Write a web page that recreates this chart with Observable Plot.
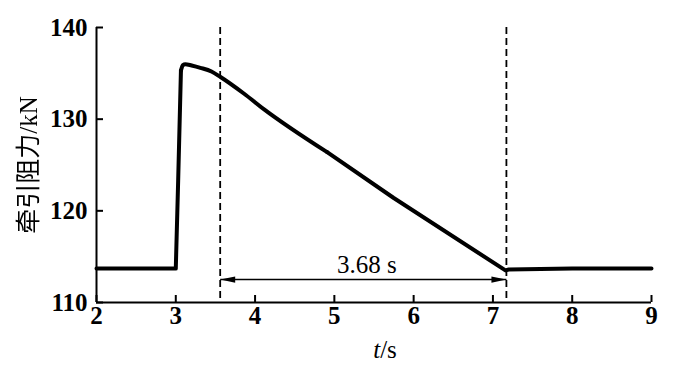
<!DOCTYPE html>
<html>
<head>
<meta charset="utf-8">
<script src="https://cdn.jsdelivr.net/npm/d3@7"></script>
<script src="https://cdn.jsdelivr.net/npm/@observablehq/plot@0.6"></script>
<style>
  html, body { margin: 0; padding: 0; background: #fff; }
  #chart svg { display: block; }
  #chart svg [aria-label$="tick label"] { font-size: 25px; font-weight: bold; }
</style>
</head>
<body>
<div id="chart"></div>
<script>
// ---- data ----
const time = [2, 2.5, 3.0, 3.03, 3.065, 3.09, 3.12, 3.2, 3.31, 3.45, 3.564, 3.858, 4.11, 4.909, 5.749, 7.158, 7.2, 8, 9];
const force = [113.7, 113.7, 113.7, 123.3, 135.3, 135.9, 136.0, 135.85, 135.6, 135.2, 134.6, 132.8, 131.1, 126.4, 121.4, 113.5, 113.6, 113.7, 113.7];
const xTicks = [2, 3, 4, 5, 6, 7, 8, 9];
const yTicks = [110, 120, 130, 140];
const markerTimes = [3.56, 7.17];
const spanForce = 112.5;
const spanLabel = "3.68 s";
const spanLabelPos = [5.41, 113.2];
const xLabel = ["t", "/s"];
const yLabel = "牵引阻力/kN";

const data = time.map((t, i) => ({t, f: force[i]}));
const rise = data.filter(d => d.t <= 3.065);
const smooth = data.filter(d => d.t >= 3.065 && d.t <= 4.909);
const tail = data.filter(d => d.t >= 4.909);

// narrow filled arrow head, tip at origin pointing right
const headSymbol = {
  draw(ctx) {
    ctx.moveTo(0, 0);
    ctx.lineTo(-15, -3.2);
    ctx.lineTo(-15, 3.2);
    ctx.closePath();
  }
};

const serif = "'Liberation Serif', 'Times New Roman', 'Noto Sans CJK SC', serif";
const lineStyle = {x: "t", y: "f", strokeWidth: 4, strokeLinejoin: "round", strokeLinecap: "round"};

const chart = Plot.plot({
  width: 700,
  height: 368,
  marginLeft: 96,
  marginRight: 49,
  marginTop: 27,
  marginBottom: 66,
  style: {fontFamily: serif, fontSize: "25px", color: "#000", background: "#fff"},
  x: {domain: [2, 9]},
  y: {domain: [110, 140]},
  marks: [
    // inward ticks
    Plot.axisX(xTicks, {tickSize: -7, text: null, strokeWidth: 2, label: null}),
    Plot.axisY(yTicks, {tickSize: -7, text: null, strokeWidth: 2, label: null}),
    // tick labels
    Plot.axisX(xTicks, {tickSize: 0, tickPadding: 4, fontWeight: "bold", fontSize: 25, label: null}),
    Plot.axisY(yTicks, {tickSize: 0, tickPadding: 9, fontWeight: "bold", fontSize: 25, label: null}),
    // axis lines
    Plot.ruleY([110], {strokeWidth: 2}),
    Plot.ruleX([2], {strokeWidth: 2}),
    // dashed markers
    Plot.ruleX(markerTimes, {strokeWidth: 1.8, strokeDasharray: "7,4"}),
    // curve
    Plot.line(rise, lineStyle),
    Plot.line(smooth, {...lineStyle, curve: "monotone-x"}),
    Plot.line(tail, lineStyle),
    // dimension arrow
    Plot.link([markerTimes], {x1: d => d[0], x2: d => d[1], y1: spanForce, y2: spanForce, strokeWidth: 1.5}),
    Plot.dot(markerTimes, {x: d => d, y: spanForce, symbol: headSymbol, r: 4, fill: "#000", stroke: null,
      rotate: (d, i) => i === 0 ? 180 : 0}),
    Plot.text([spanLabel], {x: spanLabelPos[0], y: spanLabelPos[1], text: d => d, lineAnchor: "bottom", fontSize: 25, fill: "#000"}),
    // axis titles
    Plot.text([xLabel], {frameAnchor: "bottom", dx: 11, dy: 55, text: d => d.join(""), fontSize: 25, fill: "#000"}),
    Plot.text([yLabel], {frameAnchor: "left", textAnchor: "middle", dx: -68, rotate: -90, text: d => d, fontSize: 25, fill: "#000"})
  ]
});

// italicize the "t" of the x title
const texts = Array.from(chart.querySelectorAll("text"));
const xl = texts.find(el => el.textContent === xLabel.join(""));
if (xl) {
  xl.textContent = "";
  const ns = "http://www.w3.org/2000/svg";
  const a = document.createElementNS(ns, "tspan");
  a.setAttribute("font-style", "italic");
  a.textContent = xLabel[0];
  const b = document.createElementNS(ns, "tspan");
  b.textContent = xLabel[1];
  xl.appendChild(a); xl.appendChild(b);
}
// force grayscale antialiasing on the rotated title
const yl = texts.find(el => el.textContent === yLabel);
if (yl) yl.style.filter = "grayscale(1)";

document.getElementById("chart").appendChild(chart);
</script>
</body>
</html>
